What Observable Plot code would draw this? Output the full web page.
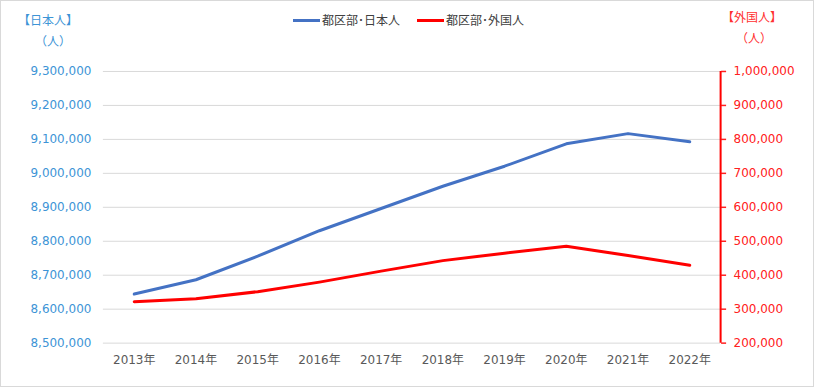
<!DOCTYPE html>
<html>
<head>
<meta charset="utf-8">
<script src="https://cdn.jsdelivr.net/npm/d3@7"></script>
<script src="https://cdn.jsdelivr.net/npm/@observablehq/plot@0.6"></script>
<style>
  html, body { margin: 0; padding: 0; background: #fff; }
  #wrap { position: relative; width: 814px; height: 387px; box-sizing: border-box; border: 1px solid #d9d9d9; overflow: hidden; font-family: "Noto Sans CJK JP", "DejaVu Sans", sans-serif; }
  #head { position: relative; height: 50px; }
  .t { position: absolute; font-size: 12px; line-height: 14px; white-space: nowrap; }
  .blue { color: #3d94d6; }
  .red { color: #ff3030; }
  .leg { position: absolute; top: 12px; left: 292px; font-size: 12px; line-height: 14px; color: #404040; display: flex; align-items: center; white-space: nowrap; }
  .sw { display: inline-block; width: 27px; height: 3px; margin-right: 2px; }
  #chart { position: absolute; left: -1px; top: 49px; }
</style>
</head>
<body>
<div id="wrap">
  <div id="head">
    <div class="t blue" style="left:17px; top:12px;">【日本人】</div>
    <div class="t blue" style="left:34px; top:33px;">（人）</div>
    <div class="t red" style="left:721px; top:9px;">【外国人】</div>
    <div class="t red" style="left:735px; top:30px;">（人）</div>
    <div class="leg">
      <span class="sw" style="background:#4472C4"></span><span>都区部･日本人</span>
      <span class="sw" style="background:#ff0000; margin-left:17px"></span><span>都区部･外国人</span>
    </div>
  </div>
  <div id="chart"></div>
</div>
<script>
const years = [2013, 2014, 2015, 2016, 2017, 2018, 2019, 2020, 2021, 2022];
const japanese = [8644500, 8686700, 8756000, 8831000, 8896500, 8962000, 9021000, 9087000, 9117000, 9093000];
const foreign = [322000, 331000, 351500, 379700, 412000, 443000, 465000, 485000, 458000, 429500];
const leftTicks = [8500000, 8600000, 8700000, 8800000, 8900000, 9000000, 9100000, 9200000, 9300000];
const rightTicks = [200000, 300000, 400000, 500000, 600000, 700000, 800000, 900000, 1000000];

// right axis maps linearly onto left axis (same span of 800,000)
const offset = leftTicks[0] - rightTicks[0];
const data = years.map((y, i) => ({year: y, jp: japanese[i], fr: foreign[i]}));
const fmt = d3.format(",");

const chart = Plot.plot({
  width: 814,
  height: 338,
  marginTop: 21,
  marginBottom: 45,
  marginLeft: 103,
  marginRight: 93,
  style: {fontFamily: "'DejaVu Sans', 'Noto Sans CJK JP', sans-serif", fontSize: "12px", background: "transparent", overflow: "visible"},
  x: {domain: [2012.5, 2022.5], axis: null},
  y: {domain: [leftTicks[0], leftTicks[leftTicks.length - 1]], axis: null},
  marks: [
    Plot.ruleY(leftTicks, {stroke: "#d9d9d9", strokeWidth: 1}),
    Plot.axisY(leftTicks, {anchor: "left", label: null, tickSize: 0, tickPadding: 12, tickFormat: fmt, color: "#3d94d6", fontSize: 12}),
    Plot.axisY(rightTicks.map(v => v + offset), {anchor: "right", label: null, tickSize: 5, tickPadding: 8, tickFormat: d => fmt(d - offset), color: "#ff2020", strokeWidth: 1.5, fontSize: 12}),
    Plot.ruleX([2022.5], {y1: leftTicks[0], y2: leftTicks[leftTicks.length - 1], stroke: "#ff0000", strokeWidth: 2}),
    Plot.axisX(years, {anchor: "bottom", label: null, tickSize: 0, tickPadding: 12, tickFormat: d => d + "年", color: "#595959", fontSize: 12}),
    Plot.lineY(data, {x: "year", y: "jp", stroke: "#4472C4", strokeWidth: 3}),
    Plot.lineY(data, {x: "year", y: d => d.fr + offset, stroke: "#ff0000", strokeWidth: 3})
  ]
});
document.getElementById("chart").appendChild(chart);
</script>
</body>
</html>
